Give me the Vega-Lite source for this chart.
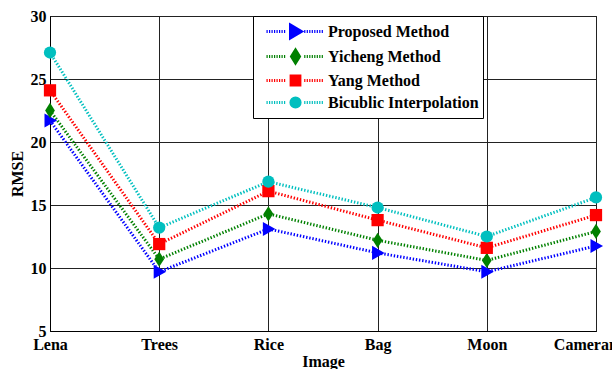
{
  "$schema": "https://vega.github.io/schema/vega-lite/v6.json",
  "width": 546,
  "height": 315,
  "autosize": {"type": "none"},
  "padding": {"left": 50, "top": 16, "right": 16, "bottom": 38},
  "background": "white",
  "data": {"values": [
    {"image": "Lena", "method": "Proposed Method", "rmse": 21.7},
    {"image": "Trees", "method": "Proposed Method", "rmse": 9.7},
    {"image": "Rice", "method": "Proposed Method", "rmse": 13.1},
    {"image": "Bag", "method": "Proposed Method", "rmse": 11.2},
    {"image": "Moon", "method": "Proposed Method", "rmse": 9.7},
    {"image": "Cameraman", "method": "Proposed Method", "rmse": 11.75},
    {"image": "Lena", "method": "Yicheng Method", "rmse": 22.5},
    {"image": "Trees", "method": "Yicheng Method", "rmse": 10.7},
    {"image": "Rice", "method": "Yicheng Method", "rmse": 14.3},
    {"image": "Bag", "method": "Yicheng Method", "rmse": 12.2},
    {"image": "Moon", "method": "Yicheng Method", "rmse": 10.6},
    {"image": "Cameraman", "method": "Yicheng Method", "rmse": 12.9},
    {"image": "Lena", "method": "Yang Method", "rmse": 24.1},
    {"image": "Trees", "method": "Yang Method", "rmse": 11.9},
    {"image": "Rice", "method": "Yang Method", "rmse": 16.1},
    {"image": "Bag", "method": "Yang Method", "rmse": 13.8},
    {"image": "Moon", "method": "Yang Method", "rmse": 11.6},
    {"image": "Cameraman", "method": "Yang Method", "rmse": 14.2},
    {"image": "Lena", "method": "Bicublic Interpolation", "rmse": 27.1},
    {"image": "Trees", "method": "Bicublic Interpolation", "rmse": 13.2},
    {"image": "Rice", "method": "Bicublic Interpolation", "rmse": 16.85},
    {"image": "Bag", "method": "Bicublic Interpolation", "rmse": 14.8},
    {"image": "Moon", "method": "Bicublic Interpolation", "rmse": 12.5},
    {"image": "Cameraman", "method": "Bicublic Interpolation", "rmse": 15.6}
  ]},
  "encoding": {
    "x": {
      "field": "image", "type": "nominal",
      "sort": ["Lena", "Trees", "Rice", "Bag", "Moon", "Cameraman"],
      "scale": {"type": "point", "padding": 0},
      "axis": {"title": "Image", "labelAngle": 0, "grid": true, "ticks": false, "labelPadding": 5, "titlePadding": 1}
    },
    "y": {
      "field": "rmse", "type": "quantitative",
      "scale": {"domain": [5, 30], "nice": false, "zero": false},
      "axis": {"title": "RMSE", "values": [5, 10, 15, 20, 25, 30], "grid": true, "ticks": false, "labelPadding": 4, "titlePadding": 5}
    },
    "color": {
      "field": "method", "type": "nominal",
      "sort": ["Proposed Method", "Yicheng Method", "Yang Method", "Bicublic Interpolation"],
      "scale": {
        "domain": ["Proposed Method", "Yicheng Method", "Yang Method", "Bicublic Interpolation"],
        "range": ["#0000ff", "#008000", "#ff0000", "#00bfbf"]
      }
    }
  },
  "resolve": {"scale": {"shape": "independent"}, "legend": {"shape": "independent"}},
  "layer": [
    {
      "mark": {"type": "line", "strokeWidth": 3, "strokeDash": [1.4, 1.8]},
      "encoding": {
        "color": {
          "field": "method", "type": "nominal",
          "sort": ["Proposed Method", "Yicheng Method", "Yang Method", "Bicublic Interpolation"],
          "scale": {
            "domain": ["Proposed Method", "Yicheng Method", "Yang Method", "Bicublic Interpolation"],
            "range": ["#0000ff", "#008000", "#ff0000", "#00bfbf"]
          },
          "legend": {
            "title": null,
            "orient": "none",
            "legendX": 203,
            "legendY": 0,
            "padding": 4,
            "strokeColor": "black",
            "fillColor": "white",
            "symbolSize": 400,
            "symbolStrokeWidth": 3,
            "symbolOffset": 27,
            "labelOffset": 21,
            "labelExpr": "datum.label + '\u2002'",
            "rowPadding": 0,
            "labelFont": "Liberation Serif",
            "labelFontWeight": "bold",
            "labelFontSize": 16,
            "labelColor": "black",
            "encode": {
              "symbols": {
                "update": {
                  "shape": {"signal": "datum.value === 'Proposed Method' ? 'M-2.9,0h0.12M-2.65,0h0.12M-2.4,0h0.12M-2.15,0h0.12M-1.9,0h0.12M-1.65,0h0.12M-1.4,0h0.12M-1.15,0h0.12M0.87,0h0.12M1.12,0h0.12M1.37,0h0.12M1.62,0h0.12M1.87,0h0.12M2.12,0h0.12M2.37,0h0.12M2.62,0h0.12M-0.5,-0.64L0.58,0L-0.5,0.64Z' : datum.value === 'Yicheng Method' ? 'M-2.9,0h0.12M-2.65,0h0.12M-2.4,0h0.12M-2.15,0h0.12M-1.9,0h0.12M-1.65,0h0.12M-1.4,0h0.12M-1.15,0h0.12M0.87,0h0.12M1.12,0h0.12M1.37,0h0.12M1.62,0h0.12M1.87,0h0.12M2.12,0h0.12M2.37,0h0.12M2.62,0h0.12M0,-0.64L0.4,0L0,0.64L-0.4,0Z' : datum.value === 'Yang Method' ? 'M-2.9,0h0.12M-2.65,0h0.12M-2.4,0h0.12M-2.15,0h0.12M-1.9,0h0.12M-1.65,0h0.12M-1.4,0h0.12M-1.15,0h0.12M0.87,0h0.12M1.12,0h0.12M1.37,0h0.12M1.62,0h0.12M1.87,0h0.12M2.12,0h0.12M2.37,0h0.12M2.62,0h0.12M-0.44,-0.44H0.44V0.44H-0.44Z' : 'M-2.9,0h0.12M-2.65,0h0.12M-2.4,0h0.12M-2.15,0h0.12M-1.9,0h0.12M-1.65,0h0.12M-1.4,0h0.12M-1.15,0h0.12M0.87,0h0.12M1.12,0h0.12M1.37,0h0.12M1.62,0h0.12M1.87,0h0.12M2.12,0h0.12M2.37,0h0.12M2.62,0h0.12M-0.46,0A0.46,0.46 0 1,0 0.46,0A0.46,0.46 0 1,0 -0.46,0Z'"},
                  "fill": {"scale": "color", "field": "value"},
                  "stroke": {"scale": "color", "field": "value"},
                  "strokeWidth": {"value": 3},
                  "strokeDash": {"value": []},
                  "size": {"value": 400},
                  "opacity": {"value": 1}
                }
              }
            }
          }
        }
      }
    },
    {
      "mark": {"type": "point", "filled": true, "opacity": 1, "size": 150},
      "encoding": {
        "shape": {
          "field": "method", "type": "nominal",
          "scale": {
            "domain": ["Proposed Method", "Yicheng Method", "Yang Method", "Bicublic Interpolation"],
            "range": ["M-0.9,-1.15L1.15,0L-0.9,1.15Z", "M0,-1.25L0.8,0L0,1.25L-0.8,0Z", "square", "circle"]
          },
          "legend": null
        }
      }
    }
  ],
  "config": {
    "view": {"stroke": "black", "strokeWidth": 1},
    "axis": {
      "domainColor": "black",
      "gridColor": "#222",
      "gridWidth": 1,
      "gridOpacity": 1,
      "labelFont": "Liberation Serif",
      "labelFontWeight": "bold",
      "labelFontSize": 16,
      "labelColor": "black",
      "titleFont": "Liberation Serif",
      "titleFontWeight": "bold",
      "titleFontSize": 16,
      "titleColor": "black"
    }
  }
}
